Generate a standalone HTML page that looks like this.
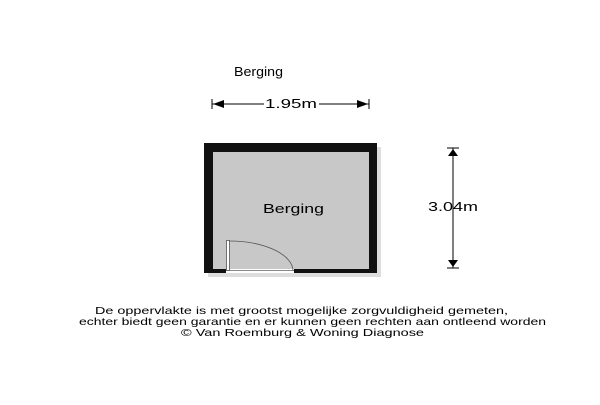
<!DOCTYPE html>
<html><head><style>
body{margin:0;width:600px;height:400px;background:#fff;overflow:hidden;font-family:"Liberation Sans",sans-serif}
</style></head><body>
<svg width="600" height="400" xmlns="http://www.w3.org/2000/svg" font-family="Liberation Sans, sans-serif">
<text x="234" y="76" font-size="13" textLength="49" lengthAdjust="spacingAndGlyphs">Berging</text>
<!-- horizontal dim -->
<line x1="212" y1="104" x2="369" y2="104" stroke="#000" stroke-width="1"/>
<line x1="212" y1="99" x2="212" y2="109" stroke="#000"/>
<line x1="369" y1="99" x2="369" y2="109" stroke="#000"/>
<polygon points="213,104 224,100 224,108" fill="#000"/>
<polygon points="368,104 357,100 357,108" fill="#000"/>
<rect x="264" y="96" width="55" height="14" fill="#fff"/>
<text x="265" y="108" font-size="13" textLength="52" lengthAdjust="spacingAndGlyphs">1.95m</text>
<!-- shadow -->
<rect x="208" y="147" width="173" height="130" fill="#bbb" opacity="0.5"/>
<!-- room -->
<rect x="204" y="143" width="173" height="130" fill="#111"/>
<rect x="213" y="152" width="156" height="117" fill="#c8c8c8"/>
<rect x="226" y="269" width="68" height="4" fill="#fff"/>
<line x1="226" y1="270.5" x2="294" y2="270.5" stroke="#888" stroke-width="1"/>
<rect x="226.5" y="240.5" width="3" height="30" fill="#fff" stroke="#555" stroke-width="0.8"/>
<path d="M229,241 A64,30 0 0 1 293,271" fill="none" stroke="#555" stroke-width="0.8"/>
<text x="263" y="213" font-size="13" textLength="61" lengthAdjust="spacingAndGlyphs">Berging</text>
<!-- vertical dim -->
<line x1="453" y1="148" x2="453" y2="268" stroke="#000"/>
<line x1="447" y1="148" x2="459" y2="148" stroke="#000"/>
<line x1="447" y1="268" x2="459" y2="268" stroke="#000"/>
<polygon points="453,149 448,156 458,156" fill="#000"/>
<polygon points="453,267 448,260 458,260" fill="#000"/>
<text x="428" y="211" font-size="13" textLength="50" lengthAdjust="spacingAndGlyphs">3.04m</text>
<text x="95" y="314" font-size="10.5" textLength="413" lengthAdjust="spacingAndGlyphs">De oppervlakte is met grootst mogelijke zorgvuldigheid gemeten,</text>
<text x="79" y="325" font-size="10.5" textLength="467" lengthAdjust="spacingAndGlyphs">echter biedt geen garantie en er kunnen geen rechten aan ontleend worden</text>
<text x="181" y="336" font-size="10.5" textLength="243" lengthAdjust="spacingAndGlyphs">© Van Roemburg &amp; Woning Diagnose</text>
</svg>
</body></html>
